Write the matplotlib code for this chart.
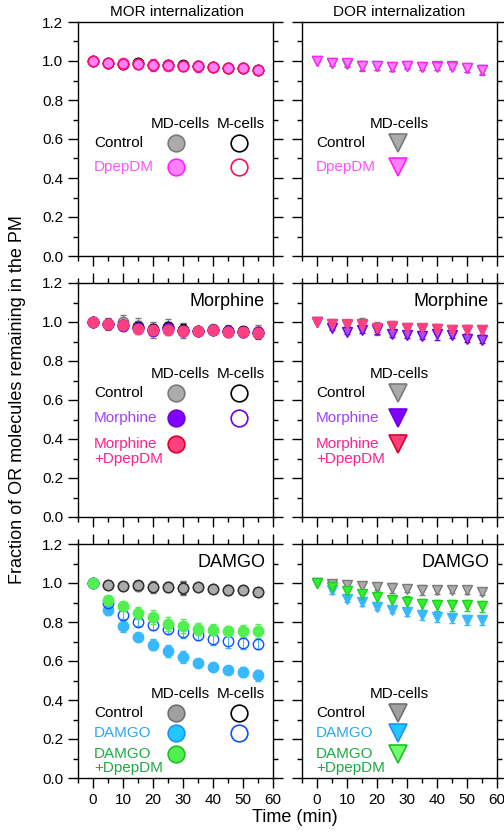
import numpy as np
import matplotlib
matplotlib.use('Agg')
import matplotlib.pyplot as plt
from matplotlib.ticker import MultipleLocator

plt.rcParams['font.family'] = ['Liberation Sans', 'DejaVu Sans']

t = [0, 5, 10, 15, 20, 25, 30, 35, 40, 45, 50, 55]

# MOR, DpepDM
mor_ctrl_md = [1.000, 0.990, 0.986, 0.988, 0.980, 0.978, 0.976, 0.972, 0.968, 0.965, 0.966, 0.955]
mor_ctrl_md_err = [0, 0.020, 0.020, 0.022, 0.020, 0.020, 0.025, 0.020, 0.015, 0.020, 0.020, 0.020]
mor_ctrl_m = [1.000, 0.988, 0.985, 0.990, 0.982, 0.980, 0.978, 0.976, 0.970, 0.966, 0.965, 0.956]
mor_ctrl_m_err = [0, 0.020, 0.020, 0.020, 0.018, 0.020, 0.022, 0.018, 0.015, 0.018, 0.020, 0.020]
mor_dpep_md = [1.000, 0.992, 0.988, 0.986, 0.979, 0.976, 0.974, 0.972, 0.969, 0.964, 0.964, 0.955]
mor_dpep_md_err = [0, 0.020, 0.015, 0.025, 0.030, 0.020, 0.020, 0.030, 0.020, 0.020, 0.020, 0.020]
mor_dpep_m = [1.000, 0.990, 0.987, 0.985, 0.980, 0.977, 0.975, 0.973, 0.968, 0.965, 0.963, 0.954]
mor_dpep_m_err = [0, 0.015, 0.015, 0.020, 0.020, 0.020, 0.018, 0.020, 0.018, 0.020, 0.020, 0.020]

# DOR, DpepDM
dor_ctrl_md = [1.000, 0.988, 0.986, 0.976, 0.974, 0.970, 0.975, 0.970, 0.972, 0.972, 0.964, 0.955]
dor_ctrl_md_err = [0, 0.012, 0.015, 0.025, 0.022, 0.020, 0.015, 0.018, 0.018, 0.012, 0.018, 0.025]
dor_dpep_md = [1.000, 0.990, 0.988, 0.976, 0.975, 0.970, 0.976, 0.970, 0.970, 0.970, 0.962, 0.954]
dor_dpep_md_err = [0, 0.012, 0.012, 0.020, 0.020, 0.020, 0.012, 0.018, 0.018, 0.010, 0.018, 0.022]

# MOR, Morphine
morph_ctrl_md = [1.000, 0.990, 1.000, 0.980, 0.960, 0.975, 0.957, 0.955, 0.962, 0.955, 0.950, 0.948]
morph_ctrl_md_err = [0, 0.030, 0.035, 0.040, 0.040, 0.040, 0.040, 0.020, 0.025, 0.030, 0.025, 0.035]
morph_ctrl_m = [1.000, 0.992, 0.985, 0.975, 0.962, 0.972, 0.958, 0.956, 0.960, 0.953, 0.952, 0.946]
morph_ctrl_m_err = [0, 0.025, 0.025, 0.030, 0.030, 0.030, 0.030, 0.020, 0.020, 0.025, 0.020, 0.030]
morph_md = [1.000, 0.990, 0.982, 0.968, 0.957, 0.962, 0.954, 0.955, 0.957, 0.950, 0.950, 0.944]
morph_md_err = [0, 0.015, 0.015, 0.015, 0.020, 0.015, 0.015, 0.012, 0.012, 0.015, 0.015, 0.015]
morph_m = [1.000, 0.992, 0.984, 0.970, 0.955, 0.970, 0.956, 0.955, 0.958, 0.952, 0.951, 0.947]
morph_m_err = [0, 0.015, 0.015, 0.015, 0.020, 0.020, 0.015, 0.012, 0.012, 0.015, 0.015, 0.015]
morph_dpep_md = [1.000, 0.990, 0.983, 0.966, 0.958, 0.960, 0.954, 0.954, 0.957, 0.950, 0.950, 0.944]
morph_dpep_md_err = [0, 0.012, 0.012, 0.012, 0.015, 0.012, 0.012, 0.010, 0.010, 0.012, 0.012, 0.012]

# DOR, Morphine
dmorph_ctrl_md = [1.000, 0.990, 0.986, 0.988, 0.966, 0.975, 0.968, 0.962, 0.966, 0.960, 0.960, 0.957]
dmorph_ctrl_md_err = [0, 0.012, 0.015, 0.030, 0.035, 0.030, 0.020, 0.020, 0.025, 0.020, 0.025, 0.025]
dmorph_md = [1.000, 0.971, 0.949, 0.957, 0.957, 0.940, 0.932, 0.928, 0.940, 0.932, 0.915, 0.906]
dmorph_md_err = [0, 0.012, 0.012, 0.015, 0.020, 0.015, 0.015, 0.015, 0.030, 0.012, 0.015, 0.015]
dmorph_dpep_md = [1.000, 0.990, 0.988, 0.983, 0.971, 0.978, 0.971, 0.970, 0.966, 0.960, 0.960, 0.957]
dmorph_dpep_md_err = [0, 0.010, 0.010, 0.015, 0.020, 0.020, 0.018, 0.018, 0.020, 0.018, 0.018, 0.020]

# MOR, DAMGO
damgo_ctrl_md = [1.000, 0.990, 0.986, 0.986, 0.980, 0.978, 0.976, 0.978, 0.970, 0.966, 0.966, 0.956]
damgo_ctrl_md_err = [0, 0.020, 0.020, 0.025, 0.030, 0.025, 0.035, 0.015, 0.012, 0.025, 0.020, 0.020]
damgo_ctrl_m = [1.000, 0.990, 0.986, 0.988, 0.980, 0.978, 0.976, 0.980, 0.970, 0.966, 0.966, 0.956]
damgo_ctrl_m_err = [0, 0.020, 0.020, 0.020, 0.025, 0.020, 0.030, 0.012, 0.010, 0.020, 0.018, 0.020]
damgo_md = [1.000, 0.863, 0.778, 0.721, 0.684, 0.650, 0.620, 0.590, 0.567, 0.552, 0.542, 0.526]
damgo_md_err = [0, 0.025, 0.030, 0.015, 0.030, 0.030, 0.030, 0.020, 0.015, 0.015, 0.025, 0.030]
damgo_m = [1.000, 0.897, 0.838, 0.800, 0.783, 0.766, 0.747, 0.735, 0.714, 0.704, 0.692, 0.689]
damgo_m_err = [0, 0.025, 0.025, 0.020, 0.025, 0.030, 0.030, 0.025, 0.030, 0.035, 0.030, 0.030]
damgo_dpep_md = [1.000, 0.911, 0.880, 0.846, 0.826, 0.790, 0.778, 0.764, 0.761, 0.752, 0.752, 0.752]
damgo_dpep_md_err = [0, 0.020, 0.025, 0.030, 0.035, 0.035, 0.035, 0.030, 0.030, 0.025, 0.035, 0.040]

# DOR, DAMGO
ddamgo_ctrl_md = [1.000, 0.993, 0.990, 0.983, 0.980, 0.976, 0.970, 0.966, 0.966, 0.962, 0.962, 0.954]
ddamgo_ctrl_md_err = [0, 0.012, 0.010, 0.020, 0.015, 0.025, 0.015, 0.025, 0.020, 0.012, 0.020, 0.015]
ddamgo_md = [1.000, 0.962, 0.920, 0.903, 0.877, 0.860, 0.851, 0.834, 0.826, 0.822, 0.809, 0.809]
ddamgo_md_err = [0, 0.020, 0.015, 0.020, 0.015, 0.015, 0.020, 0.025, 0.025, 0.025, 0.025, 0.025]
ddamgo_dpep_md = [1.000, 0.980, 0.959, 0.945, 0.928, 0.911, 0.903, 0.890, 0.885, 0.885, 0.885, 0.880]
ddamgo_dpep_md_err = [0, 0.015, 0.020, 0.020, 0.025, 0.030, 0.030, 0.030, 0.030, 0.030, 0.030, 0.030]

# colours
c_gray_f, c_gray_e = '#ababab', '#7a7a7a'
c_black = '#000000'
c_dpep_f, c_dpep_e, c_dpep_t = '#ff80ff', '#ff22ff', '#ff55ff'
c_dpep_m = '#ff1050'
c_morph_f, c_morph_e, c_morph_t = '#8000ff', '#7000e0', '#a040ff'
c_mdp_f, c_mdp_e, c_mdp_t = '#ff4080', '#e00020', '#ff2090'
c_dam_f, c_dam_e, c_dam_t = '#38b8ff', '#2090ff', '#2aa8f0'
c_dam_m = '#1050ff'
c_dgr_f, c_dgr_e, c_dgr_t = '#50f050', '#20c020', '#20a845'

W, H = 504, 832
fig = plt.figure(figsize=(W / 100, H / 100), dpi=100)


def make_ax(x0, y0, top=True):
    ax = fig.add_axes([x0 / W, 1 - (y0 + 234) / H, 195 / W, 234 / H])
    ax.set_xlim(-5, 60)
    ax.set_ylim(0, 1.2)
    ax.xaxis.set_major_locator(MultipleLocator(10))
    ax.xaxis.set_minor_locator(MultipleLocator(5))
    ax.yaxis.set_major_locator(MultipleLocator(0.2))
    ax.yaxis.set_minor_locator(MultipleLocator(0.1))
    ax.tick_params(which='both', direction='out', top=top, right=True, width=1.0,
                   labelsize=11, labelbottom=False, labelleft=False)
    ax.tick_params(which='major', length=7.2)
    ax.tick_params(which='minor', length=3.6)
    for s in ax.spines.values():
        s.set_linewidth(1.0)
    return ax


def series(ax, y, err, marker, fc, ec, ms=7.5, bar=None):
    ax.errorbar(t, y, yerr=err, fmt=marker, ms=ms, mfc=fc, mec=ec, mew=1.0,
                ecolor=bar or ec, elinewidth=0.8, capsize=2.5, capthick=0.8)


def key(ax, x, y, marker, fc, ec, ms=12):
    ax.plot([x], [y], marker=marker, ms=ms, mfc=fc, mec=ec, mew=1.2,
            transform=ax.transAxes, clip_on=False)


def label(ax, x, y, s, color, **kw):
    ax.text(x, y, s, color=color, fontsize=11, transform=ax.transAxes,
            va='center', linespacing=1.05, **kw)


ax1 = make_ax(78, 22, top=False)
ax2 = make_ax(302, 22, top=False)
ax3 = make_ax(78, 283)
ax4 = make_ax(302, 283)
ax5 = make_ax(78, 544)
ax6 = make_ax(302, 544)

for ax in (ax1, ax3, ax5):
    ax.tick_params(labelleft=True)
    ax.yaxis.set_major_formatter(matplotlib.ticker.FormatStrFormatter('%.1f'))
for ax in (ax5, ax6):
    ax.tick_params(labelbottom=True)

# panel 1: MOR DpepDM
series(ax1, mor_ctrl_md, mor_ctrl_md_err, 'o', c_gray_f, c_gray_e)
series(ax1, mor_ctrl_m, mor_ctrl_m_err, 'o', 'none', c_black)
series(ax1, mor_dpep_md, mor_dpep_md_err, 'o', c_dpep_f, c_dpep_e)
series(ax1, mor_dpep_m, mor_dpep_m_err, 'o', 'none', c_dpep_m)
ax1.text(0.508, 1.043, 'MOR internalization', transform=ax1.transAxes, ha='center', va='center', fontsize=11)
label(ax1, 0.523, 0.564, 'MD-cells', 'black', ha='center')
label(ax1, 0.836, 0.564, 'M-cells', 'black', ha='center')
label(ax1, 0.082, 0.483, 'Control', 'black')
label(ax1, 0.082, 0.380, 'DpepDM', c_dpep_t)
key(ax1, 0.503, 0.483, 'o', c_gray_f, c_gray_e)
key(ax1, 0.826, 0.483, 'o', 'none', c_black)
key(ax1, 0.503, 0.380, 'o', c_dpep_f, c_dpep_e)
key(ax1, 0.826, 0.380, 'o', 'none', c_dpep_m)

# panel 2: DOR DpepDM
series(ax2, dor_ctrl_md, dor_ctrl_md_err, 'v', c_gray_f, c_gray_e)
series(ax2, dor_dpep_md, dor_dpep_md_err, 'v', c_dpep_f, c_dpep_e)
ax2.text(0.497, 1.043, 'DOR internalization', transform=ax2.transAxes, ha='center', va='center', fontsize=11)
label(ax2, 0.497, 0.564, 'MD-cells', 'black', ha='center')
label(ax2, 0.072, 0.483, 'Control', 'black')
label(ax2, 0.072, 0.380, 'DpepDM', c_dpep_t)
key(ax2, 0.492, 0.483, 'v', c_gray_f, c_gray_e, ms=13)
key(ax2, 0.492, 0.380, 'v', c_dpep_f, c_dpep_e, ms=13)

# panel 3: MOR Morphine
series(ax3, morph_ctrl_md, morph_ctrl_md_err, 'o', c_gray_f, c_gray_e)
series(ax3, morph_ctrl_m, morph_ctrl_m_err, 'o', 'none', c_black)
series(ax3, morph_md, morph_md_err, 'o', c_morph_f, c_morph_e)
series(ax3, morph_m, morph_m_err, 'o', 'none', c_morph_e)
series(ax3, morph_dpep_md, morph_dpep_md_err, 'o', c_mdp_f, c_mdp_f)
ax3.text(0.959, 0.919, 'Morphine', transform=ax3.transAxes, ha='right', va='center', fontsize=13)
label(ax3, 0.523, 0.611, 'MD-cells', 'black', ha='center')
label(ax3, 0.836, 0.611, 'M-cells', 'black', ha='center')
label(ax3, 0.082, 0.530, 'Control', 'black')
label(ax3, 0.082, 0.423, 'Morphine', c_morph_t)
label(ax3, 0.082, 0.279, 'Morphine\n+DpepDM', c_mdp_t)
key(ax3, 0.503, 0.530, 'o', c_gray_f, c_gray_e)
key(ax3, 0.826, 0.530, 'o', 'none', c_black)
key(ax3, 0.503, 0.423, 'o', c_morph_f, c_morph_e)
key(ax3, 0.826, 0.423, 'o', 'none', c_morph_e)
key(ax3, 0.503, 0.312, 'o', c_mdp_f, c_mdp_e)

# panel 4: DOR Morphine
series(ax4, dmorph_ctrl_md, dmorph_ctrl_md_err, 'v', c_gray_f, c_gray_e)
series(ax4, dmorph_md, dmorph_md_err, 'v', '#a050ff', c_morph_e)
series(ax4, dmorph_dpep_md, dmorph_dpep_md_err, 'v', c_mdp_f, c_mdp_f)
ax4.text(0.959, 0.919, 'Morphine', transform=ax4.transAxes, ha='right', va='center', fontsize=13)
label(ax4, 0.497, 0.611, 'MD-cells', 'black', ha='center')
label(ax4, 0.072, 0.530, 'Control', 'black')
label(ax4, 0.072, 0.423, 'Morphine', c_morph_t)
label(ax4, 0.072, 0.279, 'Morphine\n+DpepDM', c_mdp_t)
key(ax4, 0.492, 0.530, 'v', c_gray_f, c_gray_e, ms=13)
key(ax4, 0.492, 0.423, 'v', c_morph_f, c_morph_e, ms=13)
key(ax4, 0.492, 0.312, 'v', c_mdp_f, c_mdp_e, ms=13)

# panel 5: MOR DAMGO
series(ax5, damgo_ctrl_md, damgo_ctrl_md_err, 'o', c_gray_f, c_gray_e)
series(ax5, damgo_ctrl_m, damgo_ctrl_m_err, 'o', 'none', '#303030')
series(ax5, damgo_md, damgo_md_err, 'o', c_dam_f, c_dam_f)
series(ax5, damgo_m, damgo_m_err, 'o', 'none', c_dam_m, bar=c_dam_f)
series(ax5, damgo_dpep_md, damgo_dpep_md_err, 'o', c_dgr_f, c_dgr_f)
ax5.text(0.959, 0.923, 'DAMGO', transform=ax5.transAxes, ha='right', va='center', fontsize=13)
label(ax5, 0.523, 0.361, 'MD-cells', 'black', ha='center')
label(ax5, 0.836, 0.361, 'M-cells', 'black', ha='center')
label(ax5, 0.082, 0.279, 'Control', 'black')
label(ax5, 0.082, 0.193, 'DAMGO', c_dam_t)
label(ax5, 0.082, 0.073, 'DAMGO\n+DpepDM', c_dgr_t)
key(ax5, 0.503, 0.279, 'o', '#a0a0a0', '#707070')
key(ax5, 0.826, 0.279, 'o', 'none', c_black)
key(ax5, 0.503, 0.193, 'o', '#20c8ff', c_dam_e)
key(ax5, 0.826, 0.193, 'o', 'none', c_dam_m)
key(ax5, 0.503, 0.103, 'o', c_dgr_f, c_dgr_e)

# panel 6: DOR DAMGO
series(ax6, ddamgo_ctrl_md, ddamgo_ctrl_md_err, 'v', c_gray_f, c_gray_e)
series(ax6, ddamgo_md, ddamgo_md_err, 'v', c_dam_f, c_dam_f)
series(ax6, ddamgo_dpep_md, ddamgo_dpep_md_err, 'v', '#30f030', '#20d020')
ax6.text(0.959, 0.923, 'DAMGO', transform=ax6.transAxes, ha='right', va='center', fontsize=13)
label(ax6, 0.497, 0.361, 'MD-cells', 'black', ha='center')
label(ax6, 0.072, 0.279, 'Control', 'black')
label(ax6, 0.072, 0.193, 'DAMGO', c_dam_t)
label(ax6, 0.072, 0.073, 'DAMGO\n+DpepDM', c_dgr_t)
key(ax6, 0.492, 0.279, 'v', '#a0a0a0', '#707070', ms=13)
key(ax6, 0.492, 0.193, 'v', '#20c8ff', c_dam_e, ms=13)
key(ax6, 0.492, 0.103, 'v', '#70ff70', c_dgr_e, ms=13)

fig.text(18 / W, 1 - 400 / H, 'Fraction of OR molecules remaining in the PM',
         rotation=90, ha='center', va='center', fontsize=13)
fig.text(295 / W, 1 - 817 / H, 'Time (min)', ha='center', va='center', fontsize=13)

fig.savefig('out.png', dpi=100)
